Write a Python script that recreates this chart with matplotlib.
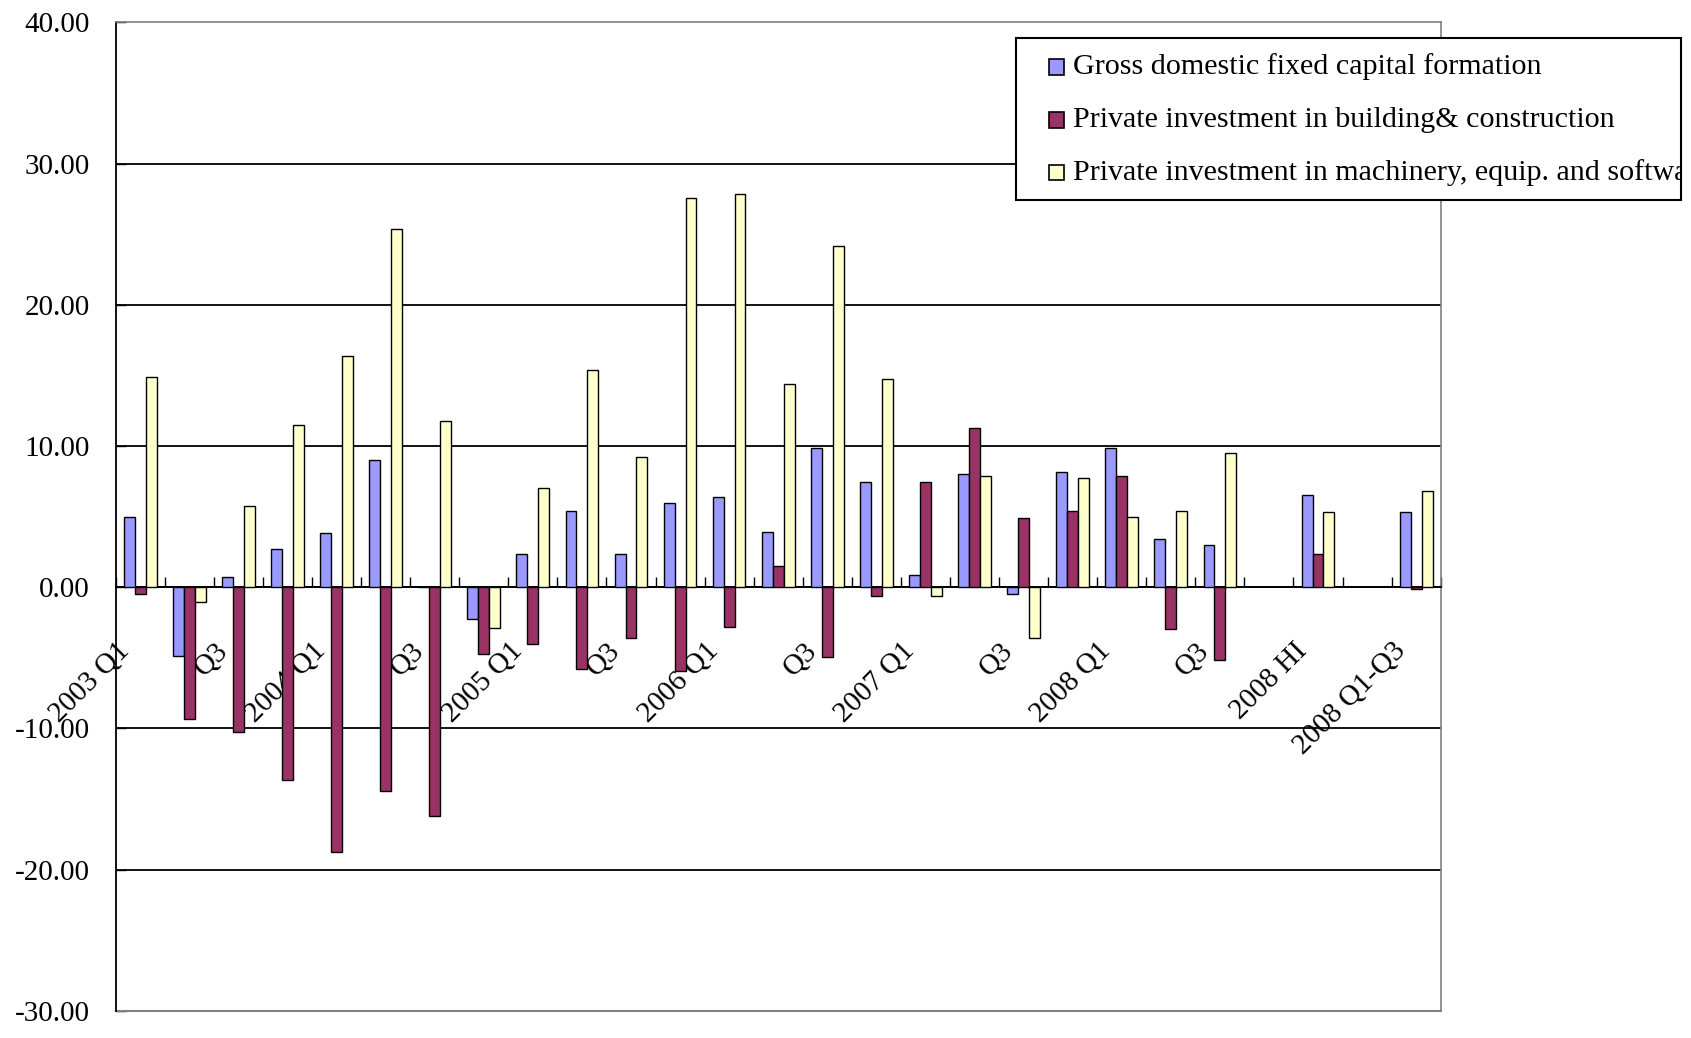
import numpy as np
import matplotlib
matplotlib.use("Agg")
import matplotlib.pyplot as plt
from matplotlib.patches import Rectangle
from matplotlib.transforms import ScaledTranslation, Bbox, TransformedBbox
from matplotlib.ticker import FixedLocator, FormatStrFormatter

plt.rcParams["font.family"] = ["Liberation Serif", "DejaVu Serif"]
plt.rcParams["axes.unicode_minus"] = False

# Growth rates (%) by period
categories = ["2003 Q1", "Q2", "Q3", "Q4",
              "2004 Q1", "Q2", "Q3", "Q4",
              "2005 Q1", "Q2", "Q3", "Q4",
              "2006 Q1", "Q2", "Q3", "Q4",
              "2007 Q1", "Q2", "Q3", "Q4",
              "2008 Q1", "Q2", "Q3", "",
              "2008 HI", "", "2008 Q1-Q3"]

gross_fixed_capital = [5.0, -4.87, 0.68, 2.69,
                       3.83, 9.03, 0.0, -2.27,
                       2.34, 5.42, 2.34, 5.94,
                       6.36, 3.93, 9.87, 7.47,
                       0.84, 7.99, -0.52, 8.12,
                       9.87, 3.38, 2.99, np.nan,
                       6.53, np.nan, 5.29]

building_construction = [-0.52, -9.32, -10.26, -13.64,
                         -18.77, -14.42, -16.2, -4.74,
                         -4.06, -5.78, -3.64, -5.94,
                         -2.82, 1.49, -4.97, -0.65,
                         7.47, 11.27, 4.87, 5.42,
                         7.86, -2.95, -5.13, np.nan,
                         2.34, np.nan, -0.1]

machinery_equipment = [14.87, -1.07, 5.71, 11.49,
                       16.36, 25.39, 11.75, -2.92,
                       7.05, 15.39, 9.19, 27.56,
                       27.86, 14.35, 24.19, 14.77,
                       -0.65, 7.86, -3.64, 7.73,
                       5.0, 5.42, 9.48, np.nan,
                       5.29, np.nan, 6.79]

series_names = ["Gross domestic fixed capital formation",
                "Private investment in building& construction",
                "Private investment in machinery, equip. and software"]
series_colors = ["#9999FF", "#993366", "#FFFFCC"]
y_ticks = [-30, -20, -10, 0, 10, 20, 30, 40]

W, H = 1691, 1038
fig = plt.figure(figsize=(W / 100, H / 100), dpi=100)
ax = fig.add_axes([115.7 / W, 1 - 1010.7 / H, (1440.7 - 115.7) / W, (1010.7 - 22.3) / H])

x = np.arange(len(categories))
bw = 1 / 4.5
for k, (vals, col) in enumerate(zip([gross_fixed_capital, building_construction,
                                     machinery_equipment], series_colors)):
    ax.bar(x + (k - 1) * bw, vals, width=bw, color=col, edgecolor="black",
           linewidth=1.0, zorder=3)

ax.set_xlim(-0.5, len(categories) - 0.5)
ax.set_ylim(y_ticks[0], y_ticks[-1])

# y axis
ax.yaxis.set_major_locator(FixedLocator(y_ticks))
ax.yaxis.set_major_formatter(FormatStrFormatter("%.2f"))
ax.tick_params(axis="y", direction="in", length=7, width=1.0, color="black",
               labelsize=21, pad=18.5)
ax.yaxis.grid(True, color="black", linewidth=1.3, zorder=1)
ax.set_axisbelow(True)
for t, v in zip(ax.yaxis.get_major_ticks(), y_ticks):
    if v in (y_ticks[0], y_ticks[-1]):
        t.gridline.set_visible(False)

# category axis sits on the zero line
ax.spines["bottom"].set_position(("data", 0))
ax.spines["bottom"].set_color("black")
ax.spines["bottom"].set_linewidth(1.3)
ax.spines["left"].set_color("black")
ax.spines["left"].set_linewidth(1.3)
for s in ("top", "right"):
    ax.spines[s].set_color("#808080")
    ax.spines[s].set_linewidth(1.2)
ax.axhline(y_ticks[0], color="#808080", linewidth=1.5, clip_on=False, zorder=2)

ax.set_xticks(x[::2])
ax.set_xticklabels(categories[::2], rotation=45, ha="right", va="center",
                   rotation_mode="anchor", fontsize=21)
ax.set_xticks(np.arange(-0.5, len(categories), 1.0), minor=True)
ax.tick_params(axis="x", which="major", length=0, pad=43)
ax.tick_params(axis="x", which="minor", direction="in", length=7, width=1.0,
               color="black")
shift = ScaledTranslation(-15 / 100, 0, fig.dpi_scale_trans)
for lab in ax.get_xticklabels():
    lab.set_transform(lab.get_transform() + shift)

# legend box, clipped at its frame on the right
lx0, lx1, ly0, ly1 = 1016, 1681, 38, 200
frame = Rectangle((lx0 / W, 1 - ly1 / H), (lx1 - lx0) / W, (ly1 - ly0) / H,
                  transform=fig.transFigure, facecolor="white", edgecolor="black",
                  linewidth=1.5, zorder=10)
fig.patches.append(frame)
clip = TransformedBbox(Bbox([[lx0 / W, 1 - ly1 / H], [lx1 / W, 1 - ly0 / H]]),
                       fig.transFigure)
rows = [67, 120, 172.5]
sq = 15
for name, col, ry in zip(series_names, series_colors, rows):
    fig.patches.append(Rectangle((1049 / W, 1 - (ry + sq / 2) / H), sq / W, sq / H,
                                 transform=fig.transFigure, facecolor=col,
                                 edgecolor="black", linewidth=1.2, zorder=11))
    t = fig.text(1073 / W, 1 - ry / H, name, fontsize=21.6, va="center", ha="left",
                 zorder=12)
    t.set_clip_box(clip)
    t.set_clip_on(True)

fig.savefig("out.png", dpi=100, facecolor="white")
